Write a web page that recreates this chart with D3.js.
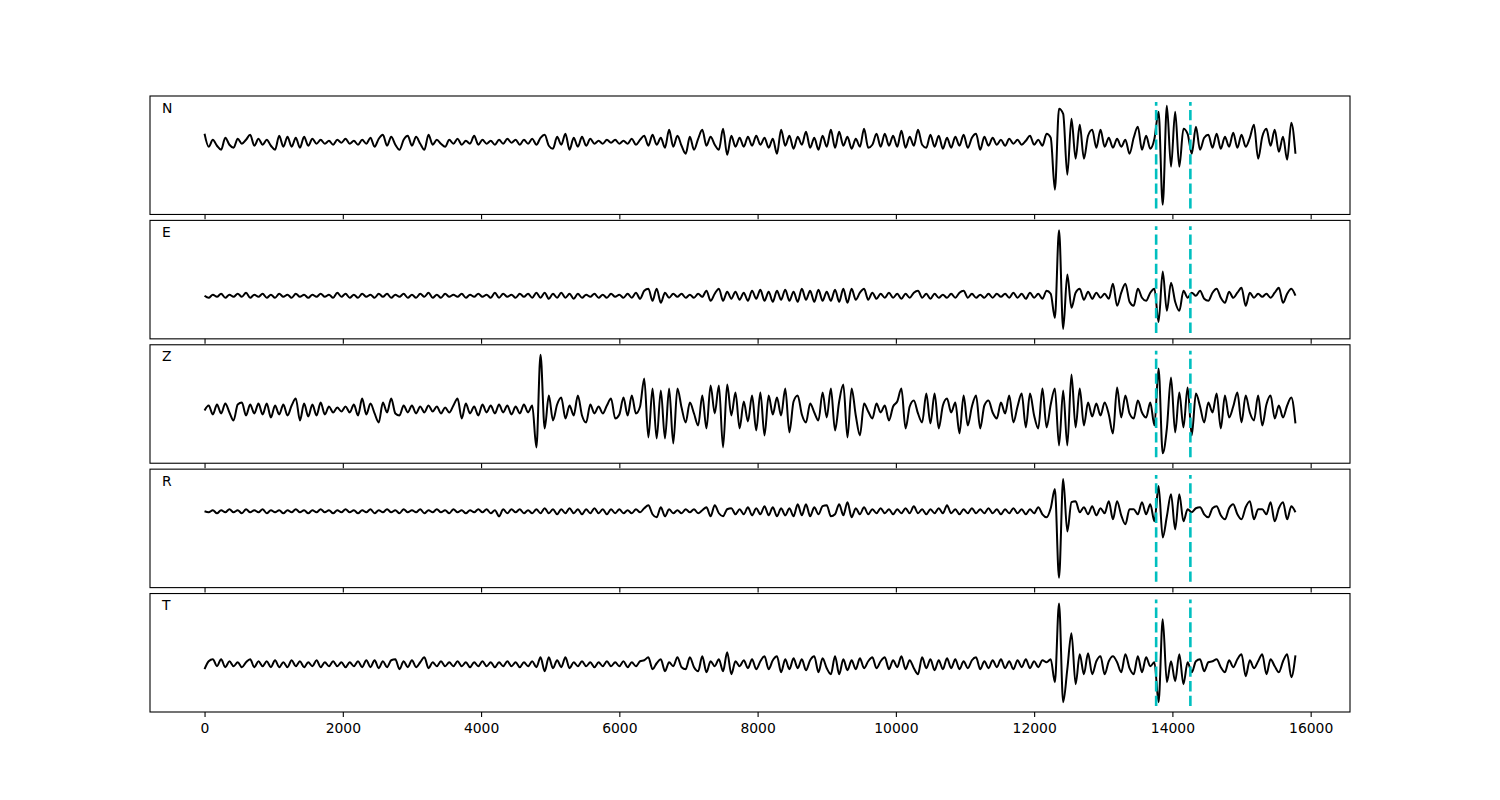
<!DOCTYPE html>
<html>
<head>
<meta charset="utf-8">
<script src="https://cdn.jsdelivr.net/npm/d3@7"></script>
<style>
  body { margin: 0; background: #fff; }
  svg { display: block; }
  .tick text, .comp-label { font-family: "DejaVu Sans", sans-serif; font-size: 13.9px; fill: #000; }
</style>
</head>
<body>
<div id="chart"></div>
<script>
var dt = 60; // sample interval of the traces

var components = ["N", "E", "Z", "R", "T"];

// amplitudes, one value per sample
var n_amp = [
  8, -5, 2, -4, -8, 4, -3, -6, 3, -2,
  2, 7, -4, 3, -3, 2, -4, -8, 6, -5,
  5, -5, 4, -6, 5, -4, 3, -2, 2, -2,
  1, -3, 2, -1, 3, -2, 1, -3, 2, -2,
  4, -5, 3, 7, -4, 5, -3, -8, 2, 6,
  -4, 5, -2, -8, 7, -3, 2, -2, -5, 2,
  -2, 3, -3, 1, -2, 6, -3, 2, -2, 1,
  -3, 2, -2, 3, -1, 2, -3, 2, -2, 3,
  -3, 4, 7, -4, -7, 5, -3, 8, -8, 4,
  -5, 5, -4, 3, -2, 1, -2, 2, -1, 2,
  -2, 1, -2, 3, -3, 2, 6, -4, 7, -3,
  4, -6, 12, -5, 6, -4, -12, 5, -8, 3,
  12, -4, 5, -3, -8, 13, -13, 6, -5, 4,
  -5, 5, -4, 6, -3, 4, -6, 3, -12, 12,
  -4, 6, -7, 5, -3, 10, -6, 4, -8, 6,
  -5, 12, -6, 10, -4, 5, -7, 3, -5, 13,
  -6, -3, 8, -5, 8, -4, 6, -5, 11, -6,
  5, -4, 12, -3, -6, 7, -5, 6, -7, 4,
  -6, 5, -4, 7, -6, 4, 8, -8, 5, -4,
  4, -3, 2, -4, 3, -2, 2, -3, 1, 6,
  -3, 2, -4, 8, 4, -48, 33, 28, -33, 23,
  -17, 17, -17, 6, 12, -6, 12, -5, 4, -6,
  3, -5, 2, -12, 4, 15, -8, 6, -7, 3,
  30, -63, 36, -25, 30, -25, 13, 8, -12, 15,
  -8, 4, 7, -6, 8, -7, 5, -5, 9, -6,
  7, -5, 4, 17, -17, 5, 13, -4, 12, -10, 5, -18, 19, -12
];

var e_amp = [
  0, -2, 1, -1, 2, -2, 1, -1, 2, -1,
  3, -2, 1, -1, 2, -2, 1, -2, 2, -1,
  1, -2, 2, -1, 1, -2, 1, -1, 2, -1,
  1, -2, 3, -1, 2, -2, 1, -2, 2, -1,
  1, -2, 2, -1, 2, -2, 1, -1, 2, -2,
  1, -2, 2, -1, 3, -2, 1, -2, 2, -1,
  1, -1, 2, -2, 1, -1, 2, -1, 1, -2,
  3, -2, 2, -1, 1, -2, 2, -1, 2, -2,
  3, -2, 3, -3, 2, -2, 3, -2, 2, -3,
  2, -2, 1, -1, 2, -2, 1, -2, 2, -1,
  1, -2, 2, -2, 3, -3, 5, 7, -5, 7,
  -7, 3, -2, 2, -1, 2, -2, 1, -2, 2,
  -1, 5, -5, 2, 7, -5, 4, -3, 4, -4,
  3, -5, 5, -3, 6, -5, 4, -6, 5, -4,
  6, -5, 4, -6, 7, -4, 5, -6, 6, -5,
  4, -5, 6, -6, 7, -7, 7, -4, 3, 7,
  -4, 3, -3, 2, -2, 3, -2, 2, -3, 2,
  -2, 3, 5, -2, 2, -3, 2, -2, 1, -2,
  2, -2, 3, 5, -2, 2, -2, 1, -2, 2,
  -2, 2, -1, 2, -2, 3, -2, 2, -3, 3,
  -2, 2, -3, 5, 2, -22, 65, -33, 21, -12,
  3, 7, -4, 4, -3, 3, -2, 2, -3, 12,
  -10, 3, 12, -6, -10, 7, -2, -5, 3, 7,
  -26, 24, -15, 13, -6, -15, 5, -2, 3, 0,
  5, -3, -5, 3, 7, -2, -7, 4, -2, 3,
  8, -10, 3, -2, 2, -1, 2, -2, 3, 8, -7, 2, 7, 0
];

var z_amp = [
  -1, 4, -5, 5, -4, 6, -3, -11, 5, 7,
  -6, 5, -4, 6, -5, 6, -8, 4, -5, 5,
  -6, 4, 11, -11, 6, -7, 5, -6, 7, -5,
  3, -3, 2, -2, 3, -3, 5, -6, 11, -5,
  6, -4, -13, 7, -3, 11, -4, -6, 4, -3,
  4, -4, 3, -3, 4, -2, 3, -4, 2, -3,
  4, 11, -9, 6, -4, 3, -6, 5, -3, 4,
  -4, 5, -3, 4, -5, 3, -4, 5, -3, 4,
  -38, 55, -19, 14, -11, 5, 12, -9, 4, -6,
  14, -6, -13, 5, -4, 3, -4, 4, 11, -9,
  -5, 12, -6, 14, -4, 3, 31, -28, 21, -29,
  19, -29, 21, -34, 21, 2, -13, 7, -4, -16,
  14, -19, 24, -4, 24, -38, 25, -6, 17, -19,
  8, -12, 14, -21, 17, -26, 14, -5, 12, -6,
  21, -23, 8, 14, -5, -13, 6, -3, -11, 17,
  -8, 21, -21, 8, 25, -28, 21, -6, -26, 6,
  -2, -9, 6, -3, 4, -11, 3, 8, 21, -19,
  3, 9, -4, -13, 16, -14, 16, -19, 4, 11,
  -3, 7, -24, 14, -16, 3, 14, -19, 4, 9,
  -3, -9, 7, -4, 14, -13, 3, 16, -18, 16,
  -6, -19, 21, -18, 5, 21, -36, 19, -36, 35,
  -18, 21, -16, 7, -7, 6, -6, 7, -5, -24,
  22, -8, 14, -4, -9, 9, -3, -8, 7, -16,
  41, -44, -19, 32, -23, 17, -18, 22, -26, 16,
  3, -13, 7, -3, 16, -19, 14, -8, 3, 17,
  -13, 14, -3, -11, 14, -16, 5, 14, -9, 4, -8, 4, 12, -14
];

var r_amp = [
  0, -1, 1, -2, 1, -1, 2, -1, 1, -2,
  2, -1, 1, -1, 2, -2, 1, -1, 1, -2,
  1, -1, 2, -1, 1, -2, 1, -1, 2, -1,
  1, -2, 1, -1, 2, -1, 1, -2, 1, -1,
  2, -2, 1, -1, 2, -1, 1, -2, 2, -1,
  1, -1, 2, -2, 1, -1, 2, -1, 1, -2,
  2, -1, 1, -2, 1, -1, 2, -1, 2, -2,
  1, -5, 2, -2, 2, -1, 2, -2, 1, -2,
  2, -2, 3, -2, 2, -3, 2, -2, 3, -2,
  2, -3, 2, -2, 3, -2, 2, -3, 2, -2,
  2, -2, 1, -2, 2, -1, 3, 6, -3, -6,
  4, -5, 2, -2, 1, -2, 2, -1, 2, -2,
  1, 4, -5, 6, -2, -5, 2, 3, -3, 2,
  -3, 4, -4, 3, -3, 5, -4, 4, -5, 3,
  -4, 3, -5, 7, -4, 7, -5, 4, -3, 5,
  6, -5, -3, 7, -4, 9, -6, 3, -3, 4,
  -3, 2, -2, 3, -2, 2, -3, 2, -2, 3,
  -2, 5, -2, 2, -3, 2, -2, 3, -2, 6,
  -2, 2, -3, 2, -2, 3, -2, 2, -2, 3,
  -2, 2, -3, 2, -2, 3, -2, 2, -3, 2,
  -2, 4, -3, -6, 3, 22, -66, 32, -20, 9,
  10, -1, 4, -3, 5, -4, 3, -2, 10, -8,
  10, -4, -13, 2, 2, -3, 9, -3, 7, -10,
  25, -26, -5, 17, -18, 17, -10, 2, -1, 3,
  4, -3, -6, 3, 5, -4, -8, 3, 7, -3,
  -8, 4, 10, -8, 2, 2, -3, 9, -10, 3, 9, -8, 5, -1
];

var t_amp = [
  -5, 3, 5, -2, 5, -3, 3, -2, 2, -3,
  2, 5, -3, 3, -2, 3, -3, 4, -3, 2,
  -3, 4, -2, 3, -3, 2, -2, 4, -3, 2,
  -2, 3, -2, 2, -3, 2, -2, 3, -3, 4,
  -3, 4, -4, 3, -3, 4, 5, -5, 3, -3,
  4, -3, 2, 7, -4, 2, -2, 3, -2, 2,
  -2, 3, -2, 2, -3, 2, -2, 3, -2, 2,
  -3, 2, -2, 3, -2, 2, -3, 2, -2, 3,
  -3, 7, -7, 7, -4, 4, -3, 7, -4, 2,
  -2, 3, -2, 2, -3, 2, -2, 3, -2, 2,
  -2, 3, -3, 2, -2, 3, 4, 7, -5, 1,
  5, -7, 2, -2, 7, -3, -5, 7, -3, -7,
  8, -8, 3, -2, 5, -7, 12, -10, 3, -2,
  4, -4, 5, -5, 3, 8, -5, 4, 8, -8,
  5, -5, 6, -4, 5, -6, 4, 8, -8, 6,
  -4, -10, 8, -10, 5, -6, 4, -5, 6, -4,
  3, 7, -4, 3, 7, -5, 4, -3, 8, -5,
  4, -4, -10, 7, -4, 5, -6, 4, -5, 6,
  -4, 5, -5, 3, -4, 4, 7, -5, 3, -4,
  4, -3, 5, -4, 3, -5, 4, -3, 5, -4,
  3, -3, 4, 2, 5, -18, 61, -38, -5, 31,
  -20, 10, -10, 11, -10, 3, 8, -10, 3, 8,
  2, -8, 10, -4, -10, 8, -8, 7, -2, 2,
  -38, 45, -18, 3, -17, 10, -20, 2, -8, 3,
  5, -7, 2, 3, 5, -3, -8, 4, -3, 5,
  10, -12, 4, -4, 3, 10, -10, 5, -2, -8, 3, 10, -13, 9
];

var picks = [13765, 14260]; // the two dashed markers
var x_ticks = [0, 2000, 4000, 6000, 8000, 10000, 12000, 14000, 16000];

var traces = [n_amp, e_amp, z_amp, r_amp, t_amp];

var width = 1500, height = 800;
var margin = {left: 150, right: 150, top: 96, bottom: 88};
var hspace = 0.05;
var n_panels = components.length;
var panel_h = (height - margin.top - margin.bottom) / (n_panels + (n_panels - 1) * hspace);
var gap = panel_h * hspace;

var t_max = (n_amp.length - 1) * dt;
var x = d3.scaleLinear()
    .domain([-0.05 * t_max, t_max * 1.05])
    .range([margin.left, width - margin.right]);

var svg = d3.select("#chart").append("svg")
    .attr("width", width)
    .attr("height", height);

svg.append("rect")
    .attr("width", width)
    .attr("height", height)
    .style("fill", "#fff");

components.forEach(function(comp, k){
  drawPanel(comp, traces[k], k);
});

function drawPanel(comp, amp, k){

  var top = margin.top + k * (panel_h + gap);
  var g = svg.append("g")
      .attr("class", "panel panel-" + comp)
      .attr("transform", "translate(0," + top + ")");

  var ext = d3.extent(amp),
    span = ext[1] - ext[0];

  var y = d3.scaleLinear()
      .domain([ext[0] - 0.1 * span, ext[1] + 0.1 * span])
      .range([panel_h, 0]);

  var line = d3.line()
      .x(function(d, i){ return x(i * dt); })
      .y(function(d){ return y(d); })
      .curve(d3.curveMonotoneX);

  g.append("path")
      .datum(amp)
      .attr("class", "trace")
      .attr("d", line)
      .style("fill", "none")
      .style("stroke", "#000")
      .style("stroke-width", "2px")
      .style("stroke-linejoin", "round");

  // dashed markers, 5% to 95% of the axes height, drawn bottom up
  g.selectAll(".pick")
      .data(picks)
    .enter().append("line")
      .attr("class", "pick")
      .attr("x1", function(d){ return x(d); })
      .attr("x2", function(d){ return x(d); })
      .attr("y1", panel_h * 0.95)
      .attr("y2", panel_h * 0.05)
      .style("stroke", "#00bfbf")
      .style("stroke-width", "2.6px")
      .style("stroke-dasharray", "10.3,4.4");

  var last = k == n_panels - 1;

  var axis = d3.axisBottom(x)
      .tickValues(x_ticks)
      .tickSize(4.9)
      .tickPadding(5.8)
      .tickFormat(last ? d3.format("d") : "");

  var ax = g.append("g")
      .attr("class", "x-axis")
      .attr("transform", "translate(0," + panel_h + ")")
      .call(axis);

  ax.select(".domain").remove();
  ax.selectAll(".tick line")
      .style("stroke", "#000")
      .style("stroke-width", "1.1px");
  ax.selectAll(".tick text")
      .attr("fill", "#000")
      .style("font-family", "'DejaVu Sans', sans-serif")
      .style("font-size", "13.9px");

  g.append("rect")
      .attr("class", "frame")
      .attr("x", margin.left)
      .attr("y", 0)
      .attr("width", width - margin.left - margin.right)
      .attr("height", panel_h)
      .style("fill", "none")
      .style("stroke", "#000")
      .style("stroke-width", "1.1px");

  g.append("text")
      .attr("class", "comp-label")
      .attr("x", margin.left + 12)
      .attr("y", 16.5)
      .text(comp);
}
</script>
</body>
</html>
